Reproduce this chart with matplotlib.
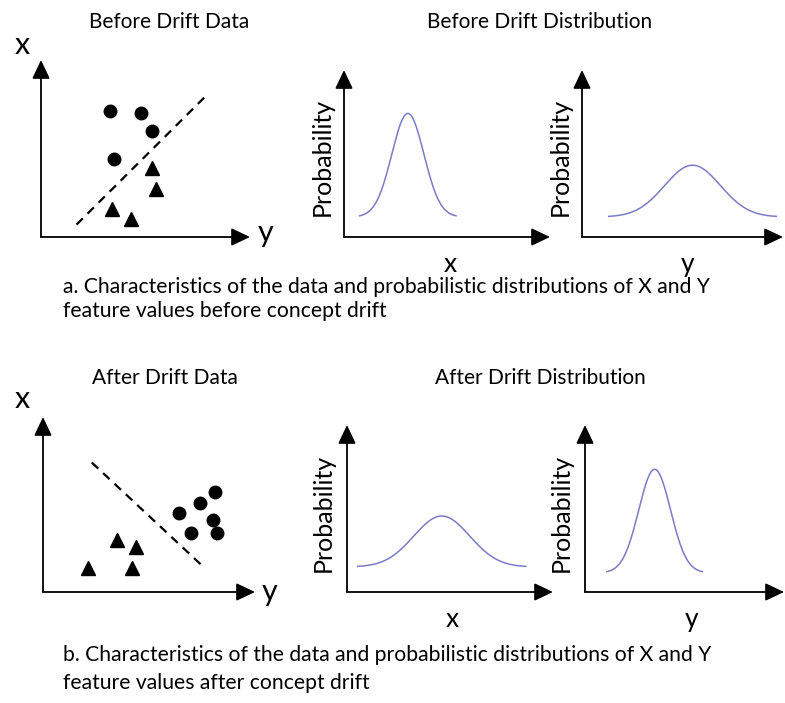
import numpy as np
import matplotlib
matplotlib.use("Agg")
import matplotlib.pyplot as plt

plt.rcParams['font.family'] = ['Lato', 'DejaVu Sans']

W, H = 785, 703

# Scatter panels, in panel units (0-10 on both axes)
before_circles_y = [3.3, 4.8, 5.3, 3.5]
before_circles_x = [7.1, 7.0, 6.0, 4.4]
before_triangles_y = [5.3, 5.5, 3.4, 4.3]
before_triangles_x = [3.9, 2.7, 1.6, 1.0]
before_boundary_y = [1.7, 8.0]
before_boundary_x = [0.7, 8.1]

after_circles_y = [6.4, 7.4, 8.1, 8.0, 7.0, 8.2]
after_circles_x = [4.5, 5.1, 5.7, 4.1, 3.4, 3.4]
after_triangles_y = [3.5, 4.4, 2.1, 4.2]
after_triangles_x = [3.0, 2.6, 1.4, 1.4]
after_boundary_y = [2.3, 7.6]
after_boundary_x = [7.4, 1.4]

# Distribution panels: mean, spread, baseline, peak height (panel units)
before_x_dist = (3.1, 0.78, 1.2, 6.2)
before_y_dist = (5.5, 1.39, 1.2, 3.1)
after_x_dist = (4.6, 1.36, 1.5, 3.05)
after_y_dist = (3.5, 0.80, 1.15, 6.2)

fig = plt.figure(figsize=(W / 100, H / 100), dpi=100)


def panel(x0, y0, x1, y1):
    # x0,y0 = axis corner, x1 = right arrow tip, y1 = top arrow tip (pixels)
    ax = fig.add_axes([x0 / W, 1 - y0 / H, (x1 - x0) / W, (y0 - y1) / H])
    ax.set_xlim(0, 10)
    ax.set_ylim(0, 10)
    ax.axis('off')
    arrow = dict(arrowstyle='-|>,head_length=0.95,head_width=0.45',
                 color='black', lw=1.3, shrinkA=0, shrinkB=0,
                 mutation_scale=12)
    ax.annotate('', xy=(10, 0), xytext=(0, 0), arrowprops=arrow,
                annotation_clip=False)
    ax.annotate('', xy=(0, 10), xytext=(0, 0), arrowprops=arrow,
                annotation_clip=False)
    return ax


def scatter_panel(ax, cy, cx, ty, tx, by, bx):
    ax.plot(by, bx, ls=(0, (4, 3)), color='black', lw=1.6)
    ax.plot(cy, cx, 'o', color='black', ms=9, clip_on=False)
    ax.plot(ty, tx, '^', color='black', ms=10, clip_on=False)


def dist_panel(ax, params):
    mu, sd, base, peak = params
    t = np.linspace(mu - 3 * sd, mu + 3 * sd, 200)
    ax.plot(t, base + peak * np.exp(-0.5 * ((t - mu) / sd) ** 2),
            color='#7b7bc6', lw=1.1)


def label(x, y, s, **kw):
    fig.text(x / W, 1 - y / H, s, **kw)


# a. before drift
ax = panel(41, 237, 250, 60)
scatter_panel(ax, before_circles_y, before_circles_x, before_triangles_y,
              before_triangles_x, before_boundary_y, before_boundary_x)
dist_panel(panel(344, 237, 550, 70), before_x_dist)
dist_panel(panel(582, 237, 783, 70), before_y_dist)

# b. after drift
ax = panel(43, 592, 255, 417)
scatter_panel(ax, after_circles_y, after_circles_x, after_triangles_y,
              after_triangles_x, after_boundary_y, after_boundary_x)
dist_panel(panel(347, 592, 553, 425), after_x_dist)
dist_panel(panel(585, 592, 784, 425), after_y_dist)

# Titles and axis names
title = dict(ha='center', va='center', fontsize=15)
label(169, 22, 'Before Drift Data', **title)
label(540, 22, 'Before Drift Distribution', **title)
label(165, 378, 'After Drift Data', **title)
label(540, 378, 'After Drift Distribution', **title)

big = dict(ha='center', va='baseline', fontsize=22)
label(22, 54, 'x', **big)
label(266, 242, 'y', **big)
label(22, 408, 'x', **big)
label(270, 601, 'y', **big)

mid = dict(ha='center', va='baseline', fontsize=19)
label(450, 272, 'x', **mid)
label(688, 272, 'y', **mid)
label(452, 627, 'x', **mid)
label(692, 627, 'y', **mid)

prob = dict(ha='center', va='center', rotation=90, fontsize=18)
label(322, 157, 'Probability', **prob)
label(560, 157, 'Probability', **prob)
label(323, 513, 'Probability', **prob)
label(561, 513, 'Probability', **prob)

cap = dict(ha='left', va='baseline', fontsize=15.2)
label(63, 293, 'a. Characteristics of the data and probabilistic distributions of X and Y', **cap)
label(63, 317, 'feature values before concept drift', **cap)
label(63, 661, 'b. Characteristics of the data and probabilistic distributions of X and Y', **cap)
label(63, 689, 'feature values after concept drift', **cap)

fig.savefig('out.png', dpi=100)
